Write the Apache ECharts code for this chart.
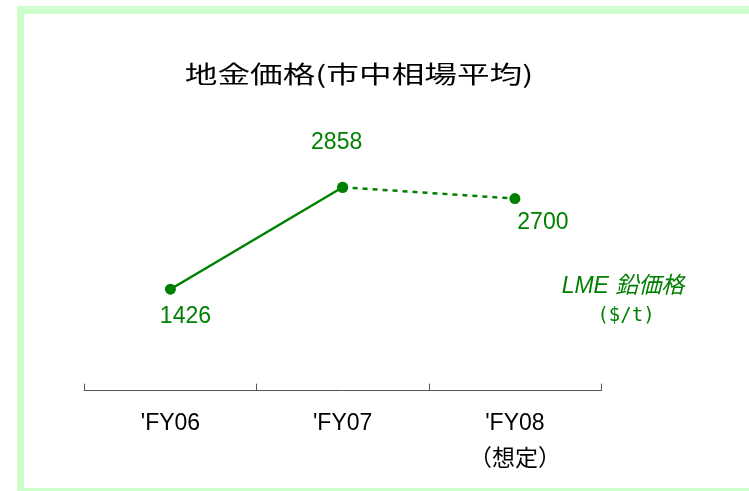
<!DOCTYPE html>
<html>
<head>
<meta charset="utf-8">
<script src="https://cdn.jsdelivr.net/npm/echarts@6/dist/echarts.min.js"></script>
<style>
  html, body { margin: 0; padding: 0; background: #fff; overflow: hidden; }
  #chart { width: 749px; height: 491px; }
</style>
</head>
<body>
<div id="chart"></div>
<script>
const categories = ["'FY06", "'FY07", "'FY08\n（想定）"]
const actualValues = [1426, 2858, null]
const forecastValues = [null, 2858, 2700]

const green = '#008000'
const frame = '#ccffcc'
const numFont = '"Liberation Sans", Arial, sans-serif'
const jpFont = '"Liberation Sans", "Noto Sans CJK JP", sans-serif'

// label placement per point
const labelPos = [
  { position: 'bottom', distance: 10, offset: [15, 0] },
  { position: 'top', distance: 28, offset: [-6, 0] },
  { position: 'bottom', distance: 7, offset: [28, 0] },
]

const chart = echarts.init(document.getElementById('chart'))

const option = {
  backgroundColor: '#fff',
  animation: false,
  graphic: [
    // light green frame: top, left, bottom (open on the right)
    { type: 'rect', z: -10, shape: { x: 17, y: 6, width: 740, height: 8 }, style: { fill: frame } },
    { type: 'rect', z: -10, shape: { x: 17, y: 6, width: 7, height: 485 }, style: { fill: frame } },
    { type: 'rect', z: -10, shape: { x: 17, y: 488, width: 740, height: 3 }, style: { fill: frame } },
    {
      type: 'text',
      x: 359,
      y: 74,
      scaleX: 1.36,
      style: {
        text: '地金価格(市中相場平均)',
        x: 0,
        y: 0,
        align: 'center',
        verticalAlign: 'middle',
        fill: '#000',
        font: '24px "Noto Sans CJK JP", sans-serif',
      },
    },
    {
      type: 'text',
      x: 623,
      y: 287,
      style: {
        text: 'LME 鉛価格',
        align: 'center',
        verticalAlign: 'middle',
        fill: green,
        font: 'italic 23px "Liberation Sans", "Noto Sans CJK JP", sans-serif',
      },
    },
    {
      type: 'text',
      x: 626,
      y: 316,
      style: {
        text: '($/t)',
        align: 'center',
        verticalAlign: 'middle',
        fill: green,
        font: '19px "DejaVu Sans Mono", monospace',
      },
    },
  ],
  grid: {
    left: 84.3,
    right: 148,
    top: 106,
    bottom: 100.3,
  },
  xAxis: {
    type: 'category',
    data: categories,
    boundaryGap: true,
    axisLine: { lineStyle: { color: '#555', width: 1 } },
    axisTick: { show: true, inside: true, length: 7, lineStyle: { color: '#555' } },
    axisLabel: {
      margin: 15,
      color: '#000',
      fontSize: 23,
      lineHeight: 36,
      fontFamily: jpFont,
      interval: 0,
    },
    splitLine: { show: false },
  },
  yAxis: {
    type: 'value',
    show: false,
    min: 0,
    max: 4000,
  },
  series: [
    {
      type: 'line',
      symbol: 'circle',
      symbolSize: 11,
      itemStyle: { color: green },
      lineStyle: { color: green, width: 2.5 },
      data: actualValues.map((v, i) => ({
        value: v,
        label: Object.assign({ show: v !== null }, labelPos[i]),
      })),
      label: { color: green, fontSize: 23, fontFamily: numFont },
      z: 3,
    },
    {
      type: 'line',
      symbol: 'circle',
      symbolSize: 11,
      itemStyle: { color: green },
      lineStyle: { color: green, width: 2.5, type: [5, 5] },
      data: forecastValues.map((v, i) => ({
        value: v,
        label: Object.assign({ show: i === 2 }, labelPos[i]),
      })),
      label: { color: green, fontSize: 23, fontFamily: numFont },
      z: 2,
    },
  ],
}

chart.setOption(option)
</script>
</body>
</html>
